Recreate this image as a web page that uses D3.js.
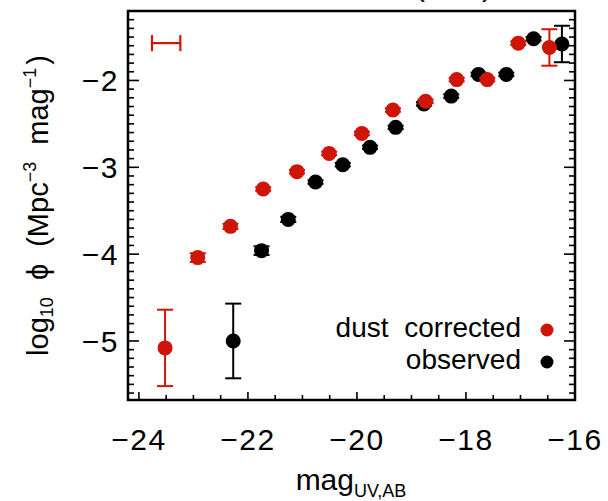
<!DOCTYPE html>
<html>
<head>
<meta charset="utf-8">
<script src="https://cdn.jsdelivr.net/npm/d3@7"></script>
<style>
  body { margin: 0; background: #fff; }
  svg { display: block; font-family: "Liberation Sans", Arial, sans-serif; }
  .frame { fill: none; stroke: #000; stroke-width: 2.5; }
  .tick { stroke: #000; stroke-width: 1.6; }
</style>
</head>
<body>
<svg width="608" height="501"></svg>
<script>
// dust corrected (red)
var dustMag = [-23.52, -22.92, -22.32, -21.72, -21.10, -20.51, -19.91, -19.34, -18.74, -18.17, -17.61, -17.04, -16.47];
var dustPhi = [-5.08, -4.04, -3.68, -3.25, -3.05, -2.84, -2.61, -2.34, -2.24, -1.99, -1.99, -1.57, -1.62];
var dustErr = [0.44, 0.05, 0.03, 0.02, 0.02, 0.02, 0.02, 0.02, 0.02, 0.02, 0.02, 0.02, 0.21];

// observed (black)
var obsMag = [-22.27, -21.75, -21.26, -20.76, -20.26, -19.76, -19.29, -18.77, -18.27, -17.77, -17.26, -16.76, -16.24];
var obsPhi = [-5.00, -3.96, -3.60, -3.17, -2.97, -2.77, -2.54, -2.27, -2.18, -1.93, -1.93, -1.52, -1.58];
var obsErr = [0.43, 0.05, 0.03, 0.02, 0.02, 0.02, 0.02, 0.02, 0.02, 0.02, 0.02, 0.02, 0.21];

// typical magnitude error bar shown top left
var magErrCenter = [-23.5];
var magErrHalf = [0.26];
var magErrPhi = [-1.57];

var xTicks = [-24, -22, -20, -18, -16];
var yTicks = [-5, -4, -3, -2];
var legendLabels = ["dust corrected", "observed"];

(function () {
    var red = "#cf1408";
    var svg = d3.select("svg");
    var pLeft = 128, pRight = 575, pTop = 11, pBottom = 400;

    var x = d3.scaleLinear().domain([-24.2, -16]).range([pLeft, pRight]);
    var y = d3.scaleLinear().domain([-5.68, -1.2]).range([pBottom, pTop]);

    function label(t) { return "\u2212" + Math.abs(t); }

    // minor / major ticks, bottom axis
    var xMinor = d3.range(-24, -16, 0.5);
    svg.selectAll(".xt").data(xMinor).enter().append("line")
        .attr("class", "tick")
        .attr("x1", function (d) { return x(d); })
        .attr("x2", function (d) { return x(d); })
        .attr("y1", pBottom)
        .attr("y2", function (d) { return pBottom - (d % 2 === 0 ? 8 : 5); });

    // left and right axis ticks
    var yMinor = d3.range(-56, -12).map(function (v) { return v / 10; });
    [pLeft, pRight].forEach(function (edge) {
        var dir = edge === pLeft ? 1 : -1;
        svg.selectAll(null).data(yMinor).enter().append("line")
            .attr("class", "tick")
            .attr("y1", function (d) { return y(d); })
            .attr("y2", function (d) { return y(d); })
            .attr("x1", edge)
            .attr("x2", function (d) {
                var major = Math.abs(d - Math.round(d)) < 1e-6;
                return edge + dir * (major ? 11 : 6);
            });
    });

    svg.append("rect")
        .attr("class", "frame")
        .attr("x", pLeft).attr("y", pTop)
        .attr("width", pRight - pLeft).attr("height", pBottom - pTop);

    // tick labels
    svg.selectAll(".xl").data(xTicks).enter().append("text")
        .attr("x", function (d) { return x(d); })
        .attr("y", 450)
        .attr("text-anchor", "middle")
        .attr("font-size", 30)
        .attr("letter-spacing", 1.5)
        .text(label);

    svg.selectAll(".yl").data(yTicks).enter().append("text")
        .attr("x", pLeft - 9)
        .attr("y", function (d) { return y(d); })
        .attr("dy", "0.36em")
        .attr("text-anchor", "end")
        .attr("font-size", 30)
        .attr("letter-spacing", 1.5)
        .text(label);

    // axis titles
    var xt = svg.append("text")
        .attr("x", 351).attr("y", 490)
        .attr("text-anchor", "middle")
        .attr("font-size", 30);
    xt.append("tspan").text("mag");
    xt.append("tspan").attr("font-size", 18).attr("dy", 7).text("UV,AB");

    var yt = svg.append("text")
        .attr("transform", "translate(48," + ((pTop + pBottom) / 2) + ") rotate(-90)")
        .attr("text-anchor", "middle")
        .attr("font-size", 29)
        .attr("word-spacing", 9);
    yt.append("tspan").text("log");
    yt.append("tspan").attr("font-size", 18).attr("dy", 5).text("10");
    yt.append("tspan").attr("dy", -5).text(" \u03d5 (Mpc");
    yt.append("tspan").attr("font-size", 18).attr("dy", -12).text("\u22123");
    yt.append("tspan").attr("dy", 12).text(" mag");
    yt.append("tspan").attr("font-size", 18).attr("dy", -12).text("\u22121");
    yt.append("tspan").attr("dy", 12).attr("dx", 3).text(")");

    // clipped title at the very top
    svg.append("text").attr("x", 420).attr("y", -4).attr("font-size", 30).attr("text-anchor", "middle").text("(");
    svg.append("text").attr("x", 487).attr("y", -4).attr("font-size", 30).attr("text-anchor", "middle").text(")");

    function drawSeries(mags, phis, errs, color) {
        var pts = mags.map(function (m, i) { return { mag: m, phi: phis[i], err: errs[i] }; });
        var g = svg.append("g");
        var eb = g.selectAll("g.eb").data(pts).enter().append("g")
            .attr("stroke", color).attr("stroke-width", 2);
        eb.append("line")
            .attr("x1", function (d) { return x(d.mag); })
            .attr("x2", function (d) { return x(d.mag); })
            .attr("y1", function (d) { return y(d.phi + d.err); })
            .attr("y2", function (d) { return y(d.phi - d.err); });
        [1, -1].forEach(function (s) {
            eb.append("line")
                .attr("x1", function (d) { return x(d.mag) - 8; })
                .attr("x2", function (d) { return x(d.mag) + 8; })
                .attr("y1", function (d) { return y(d.phi + s * d.err); })
                .attr("y2", function (d) { return y(d.phi + s * d.err); });
        });
        g.selectAll("circle").data(pts).enter().append("circle")
            .attr("cx", function (d) { return x(d.mag); })
            .attr("cy", function (d) { return y(d.phi); })
            .attr("r", 7.5)
            .attr("fill", color);
    }

    drawSeries(obsMag, obsPhi, obsErr, "#000");
    drawSeries(dustMag, dustPhi, dustErr, red);

    // horizontal magnitude error bar
    var he = svg.append("g").attr("stroke", red).attr("stroke-width", 2.2);
    he.append("line")
        .attr("x1", x(magErrCenter[0] - magErrHalf[0]))
        .attr("x2", x(magErrCenter[0] + magErrHalf[0]))
        .attr("y1", y(magErrPhi[0])).attr("y2", y(magErrPhi[0]));
    [-1, 1].forEach(function (s) {
        var xx = x(magErrCenter[0] + s * magErrHalf[0]);
        he.append("line").attr("x1", xx).attr("x2", xx)
            .attr("y1", y(magErrPhi[0]) - 8).attr("y2", y(magErrPhi[0]) + 8);
    });

    // legend
    var legend = svg.selectAll(".leg").data(legendLabels).enter().append("g")
        .attr("transform", function (d, i) { return "translate(0," + (337 + i * 32) + ")"; });
    legend.append("text")
        .attr("x", 521)
        .attr("text-anchor", "end")
        .attr("font-size", 28)
        .attr("word-spacing", 8)
        .text(function (d) { return d; });
    legend.append("circle")
        .attr("cx", 547)
        .attr("cy", -7)
        .attr("r", 6.5)
        .attr("fill", function (d, i) { return i === 0 ? red : "#000"; });
})();
</script>
</body>
</html>
